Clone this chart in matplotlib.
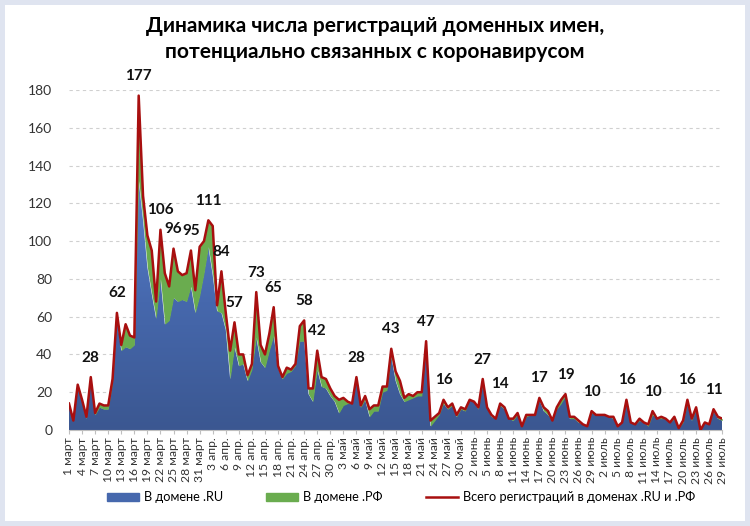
import numpy as np
import matplotlib.pyplot as plt
from matplotlib.colors import LinearSegmentedColormap
from matplotlib.patches import Patch
from matplotlib.lines import Line2D

plt.rcParams['font.family'] = ['Lato', 'DejaVu Sans']

# подписи дат: 1 марта - 29 июля
months = ['март', 'апр.', 'май', 'июнь', 'июль']
month_days = [31, 30, 31, 30, 29]

# регистрации в домене .RU по дням
ru = [13, 5, 23, 15, 6, 27, 8, 12, 11, 11, 25, 59, 42, 44, 43, 45, 132,
      111, 86, 72, 59, 80, 56, 58, 70, 68, 69, 68, 76, 62, 71, 83, 97, 82,
      63, 62, 53, 27, 44, 34, 35, 26, 32, 49, 36, 33, 42, 50, 33, 27, 30,
      31, 34, 47, 47, 19, 15, 32, 23, 22, 18, 15, 9, 13, 14, 14, 27, 12,
      16, 7, 10, 10, 20, 21, 39, 26, 19, 15, 16, 17, 18, 18, 46, 2, 5,
      8, 14, 11, 13, 7, 11, 10, 16, 15, 11, 25, 12,
      7, 6, 13, 11, 6, 5, 8, 2, 7, 8, 8, 16, 10, 8, 5, 11, 14, 18, 6, 6,
      4, 3, 2, 9, 8, 8, 8, 7, 6, 2, 4, 15, 4, 3, 5, 4, 2, 8, 6, 6,
      6, 4, 6, 1, 4, 14, 5, 11, 0, 4, 3, 10, 6, 5]

# регистрации в домене .РФ по дням
rf = [1, 0, 1, 1, 1, 1, 1, 2, 2, 2, 2, 3, 3, 12, 7, 4, 45,
      13, 17, 23, 9, 26, 27, 18, 26, 16, 13, 15, 19, 12, 26, 17, 14, 26,
      3, 22, 9, 15, 13, 6, 5, 3, 3, 24, 9, 7, 9, 15, 1, 1, 3,
      1, 1, 8, 11, 3, 7, 10, 5, 5, 4, 3, 7, 4, 1, 0, 1, 1,
      2, 4, 3, 3, 3, 2, 4, 5, 7, 2, 3, 1, 2, 2, 1, 3, 2,
      1, 2, 1, 1, 1, 1, 1, 0, 0, 1, 2, 0,
      1, 0, 1, 1, 0, 1, 1, 0, 1, 0, 0, 1, 2, 2, 0, 1, 2, 1, 1, 1,
      1, 0, 0, 1, 0, 0, 0, 0, 1, 0, 0, 1, 0, 0, 1, 0, 1, 2, 0, 1,
      0, 0, 1, 0, 1, 2, 1, 1, 0, 0, 0, 1, 1, 1]

# дни, над которыми стоят подписи значений
peak_days = [5, 11, 16, 21, 24, 28, 32, 35, 38, 43, 47, 54, 57, 66, 74, 82,
             86, 95, 99, 108, 114, 120, 128, 134, 142, 148]

labels = []
for m, n in zip(months, month_days):
    for d in range(1, n + 1):
        labels.append(f"{d} {m}")

ru = np.array(ru)
rf = np.array(rf)
total = ru + rf
x = np.arange(len(ru))

fig = plt.figure(figsize=(7.5, 5.26), dpi=100)
fig.patch.set_facecolor('white')
fig.patch.set_edgecolor('#dfe4f0')
fig.patch.set_linewidth(6)

ax = fig.add_axes([0.092, 0.1825, 0.871, 0.6465])

# синяя область с градиентом
poly = ax.fill_between(x, 0, ru, color='none', lw=0)
cmap = LinearSegmentedColormap.from_list('blu', ['#3b5791', '#4668ad', '#5b82cf'])
grad = np.linspace(0, 1, 256).reshape(-1, 1)
im = ax.imshow(grad, extent=[0, x[-1], 0, 135], origin='lower', aspect='auto',
               cmap=cmap, zorder=2)
im.set_clip_path(poly.get_paths()[0], transform=ax.transData)

# зелёная область
ax.fill_between(x, ru, total, color='#6aac4f', lw=0, zorder=2)
# общая линия
ax.plot(x, total, color='#a80f0f', lw=1.8, zorder=3)

for i in peak_days:
    ax.annotate(str(total[i]), (i, total[i]), xytext=(0, 14),
                textcoords='offset points', ha='center', va='center',
                fontsize=11, fontweight='bold', color='#111111',
                annotation_clip=False)

ax.set_xlim(0, x[-1])
ax.set_ylim(0, 180)
ax.set_yticks(range(0, 181, 20))
ax.set_xticks(x[::3])
ax.set_xticklabels(labels[::3], rotation=90, fontsize=8.7, color='#333333')
ax.tick_params(axis='y', length=0, labelsize=10, colors='#333333', pad=12)
ax.tick_params(axis='x', length=3, color='#bfbfbf', pad=2)
ax.grid(axis='y', ls=(0, (3, 3)), color='#d0d0d0', lw=0.8)
ax.set_axisbelow(True)
for s in ['top', 'right', 'left']:
    ax.spines[s].set_visible(False)
ax.spines['bottom'].set_color('#bfbfbf')

fig.text(0.5, 0.951, 'Динамика числа регистраций доменных имен,',
         ha='center', va='center', fontsize=15, fontweight='bold')
fig.text(0.5, 0.901, 'потенциально связанных с коронавирусом',
         ha='center', va='center', fontsize=15, fontweight='bold')

handles = [Patch(color='#4668ad'), Patch(color='#6aac4f'),
           Line2D([], [], color='#a80f0f', lw=1.8)]
names = ['В домене .RU', 'В домене .РФ', 'Всего регистраций в доменах .RU и .РФ']
fig.legend(handles, names, loc='center', bbox_to_anchor=(0.535, 0.055), ncol=3,
           frameon=False, fontsize=9.2, handlelength=2.5, handleheight=0.6,
           columnspacing=3.4, handletextpad=0.4)

fig.savefig('out.png', dpi=100)
